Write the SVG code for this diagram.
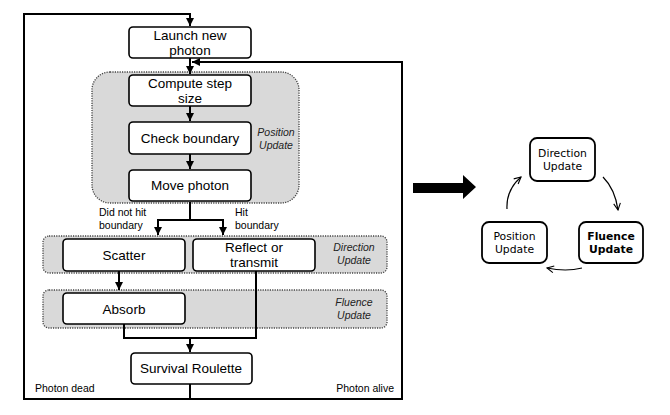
<svg xmlns="http://www.w3.org/2000/svg" width="670" height="415" viewBox="0 0 670 415">
<style>
.box{fill:#fff;stroke:#000;stroke-width:1.6}
.grp{fill:#d9d9d9;stroke:#444;stroke-width:1.3;stroke-dasharray:1.2 1.2}
.t{font-family:"Liberation Sans",Arial,sans-serif;font-size:13.5px;text-anchor:middle;fill:#000}
.s{font-family:"Liberation Sans",Arial,sans-serif;font-size:10.5px;fill:#000}
.i{font-family:"Liberation Sans",Arial,sans-serif;font-size:10.5px;font-style:italic;fill:#222}
.ln{fill:none;stroke:#000;stroke-width:2}
.c{fill:none;stroke:#000;stroke-width:1.2}
.rb{fill:#fff;stroke:#000;stroke-width:1.8}
.g{font-family:"DejaVu Sans",sans-serif;font-size:10.8px;text-anchor:middle;fill:#000}
</style>
<defs>
<marker id="ah" viewBox="0 0 10 10" refX="10" refY="5" markerWidth="4" markerHeight="4" orient="auto" markerUnits="strokeWidth">
<path d="M0,0 L10,5 L0,10 z" fill="#000"/>
</marker>
<marker id="oh" viewBox="0 0 10 10" refX="9" refY="5" markerWidth="7" markerHeight="7" orient="auto" markerUnits="strokeWidth">
<path d="M1,1 L9,5 L1,9" fill="none" stroke="#000" stroke-width="1.3"/>
</marker>
</defs>

<g id="group-position">
<rect class="grp" x="92" y="72" width="207" height="131" rx="18"/>
<text class="i" x="276" y="136" text-anchor="middle">Position</text>
<text class="i" x="276" y="149" text-anchor="middle">Update</text>
</g>
<g id="group-direction">
<rect class="grp" x="43" y="236" width="344" height="37" rx="6"/>
<text class="i" x="354" y="251" text-anchor="middle">Direction</text>
<text class="i" x="354" y="264" text-anchor="middle">Update</text>
</g>
<g id="group-fluence">
<rect class="grp" x="43" y="290" width="344" height="38" rx="6"/>
<text class="i" x="354" y="306" text-anchor="middle">Fluence</text>
<text class="i" x="354" y="319" text-anchor="middle">Update</text>
</g>

<g id="connectors">
<path class="ln" d="M190,384 V399 H24 V14 H190 V26" marker-end="url(#ah)"/>
<path class="ln" d="M190,399 H402 V62 H192" marker-end="url(#ah)"/>
<path class="ln" d="M190,58 V74" marker-end="url(#ah)"/>
<path class="ln" d="M190,106 V121" marker-end="url(#ah)"/>
<path class="ln" d="M190,154 V169" marker-end="url(#ah)"/>
<path class="ln" d="M190,202 V220"/>
<path class="ln" d="M158,220 H223"/>
<path class="ln" d="M158,219 V235" marker-end="url(#ah)"/>
<path class="ln" d="M223,219 V235" marker-end="url(#ah)"/>
<path class="ln" d="M119,271 V290" marker-end="url(#ah)"/>
<path class="ln" d="M124,324 V338 H256 V271"/>
<path class="ln" d="M190,338 V352" marker-end="url(#ah)"/>
<path class="c" d="M507,209 Q506,190 521,177" marker-end="url(#oh)"/>
<path class="c" d="M603,177 Q615,189 618,210" marker-end="url(#oh)"/>
<path class="c" d="M582,268 Q566,272 547,268" marker-end="url(#oh)"/>
</g>

<g id="launch">
<rect class="box" x="129" y="27" width="122" height="31" rx="4"/>
<text class="t" x="190" y="40">Launch new</text>
<text class="t" x="190" y="55">photon</text>
</g>
<g id="compute">
<rect class="box" x="129" y="75" width="122" height="31" rx="4"/>
<text class="t" x="190" y="88">Compute step</text>
<text class="t" x="190" y="103">size</text>
</g>
<g id="check">
<rect class="box" x="129" y="122" width="122" height="32" rx="4"/>
<text class="t" x="190" y="143">Check boundary</text>
</g>
<g id="move">
<rect class="box" x="129" y="170" width="122" height="31" rx="4"/>
<text class="t" x="190" y="190">Move photon</text>
</g>
<g id="labels-split">
<text class="s" x="99" y="216">Did not hit</text>
<text class="s" x="99" y="229">boundary</text>
<text class="s" x="235" y="216">Hit</text>
<text class="s" x="235" y="229">boundary</text>
</g>
<g id="scatter">
<rect class="box" x="63" y="239" width="122" height="32" rx="4"/>
<text class="t" x="124" y="260">Scatter</text>
</g>
<g id="reflect">
<rect class="box" x="193" y="239" width="122" height="32" rx="4"/>
<text class="t" x="254" y="252">Reflect or</text>
<text class="t" x="254" y="267">transmit</text>
</g>
<g id="absorb">
<rect class="box" x="63" y="293" width="122" height="31" rx="4"/>
<text class="t" x="124" y="314">Absorb</text>
</g>
<g id="survival">
<rect class="box" x="131" y="353" width="121" height="31" rx="4"/>
<text class="t" x="191" y="373">Survival Roulette</text>
</g>
<g id="photon-labels">
<text class="s" x="35" y="392">Photon dead</text>
<text class="s" x="394" y="392" text-anchor="end">Photon alive</text>
</g>

<g id="big-arrow">
<polygon points="413,183 463,183 463,175 476,187 463,199 463,193 413,193" fill="#000"/>
</g>
<g id="direction-update">
<rect class="rb" x="530" y="138" width="65" height="43" rx="7"/>
<text class="g" x="562.5" y="157">Direction</text>
<text class="g" x="562.5" y="170">Update</text>
</g>
<g id="position-update">
<rect class="rb" x="482" y="222" width="65" height="41" rx="7"/>
<text class="g" x="514.5" y="240">Position</text>
<text class="g" x="514.5" y="253">Update</text>
</g>
<g id="fluence-update">
<rect class="rb" x="579" y="222" width="64" height="41" rx="7"/>
<text class="g" x="611" y="240" font-weight="bold">Fluence</text>
<text class="g" x="611" y="253" font-weight="bold">Update</text>
</g>
</svg>
